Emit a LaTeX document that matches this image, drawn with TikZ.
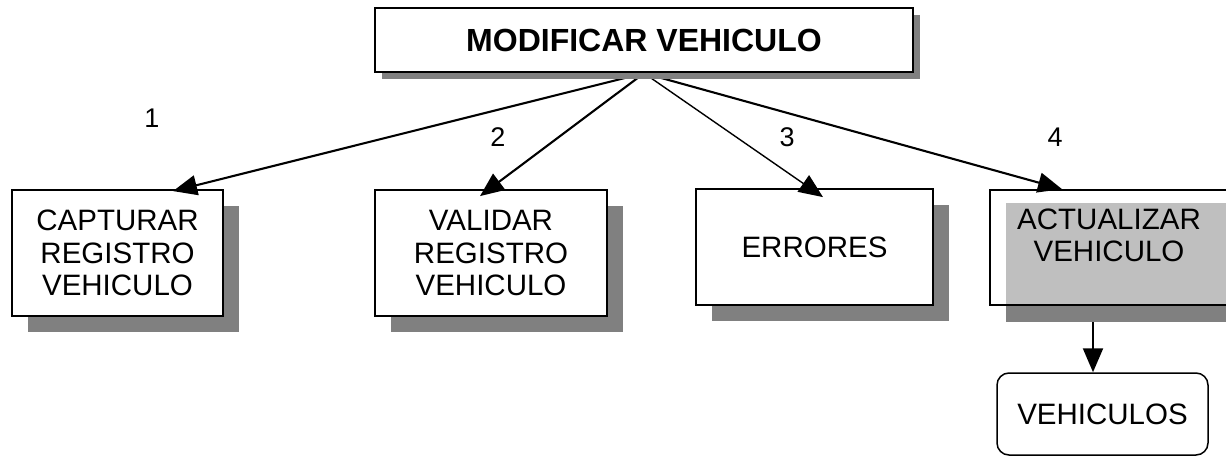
\documentclass[tikz,border=0pt]{standalone}
\usepackage{fontspec}
\setmainfont{Liberation Sans}
\usetikzlibrary{arrows.meta,shadows}
\pgfdeclarelayer{front}
\pgfsetlayers{main,front}

\begin{document}
\begin{tikzpicture}[x=1pt, y=-1pt, >={Triangle[length=24pt,width=20pt]},
  box/.style={draw, line width=1.8pt, align=center, inner sep=0pt,
    font=\fontsize{29.5}{32.5}\selectfont},
  shade/.style={drop shadow={shadow xshift=16pt, shadow yshift=-16pt, fill=black!50, opacity=1}},
  link/.style={->, line width=2.1pt},
  num/.style={font=\fontsize{27}{29}\selectfont}]
	\useasboundingbox (0,0) rectangle (1226,457);
	% title box and the odd shadow of the last box sit in front
	\begin{pgfonlayer}{front}
		\node[box, fill=white, line width=2.4pt, minimum width=538pt, minimum height=64pt,
		  font=\fontsize{32}{34}\selectfont\bfseries,
		  drop shadow={shadow xshift=7pt, shadow yshift=-7pt, fill=black!50, opacity=1}]
		  (modif) at (644,40) {MODIFICAR VEHICULO};
		\fill[black!50] (1006,203) rectangle (1246,322);
		\fill[black!25] (1006,203) rectangle (1228,305);
		\node[box, minimum width=238pt, minimum height=115pt] (actual) at (1109,247.5) {ACTUALIZAR\\VEHICULO\\[-8pt]\mbox{}};
	\end{pgfonlayer}
	\node[box, fill=white, shade, minimum width=211pt, minimum height=126pt] (captur) at (117.5,253) {CAPTURAR\\REGISTRO\\VEHICULO};
	\node[box, fill=white, shade, minimum width=232pt, minimum height=126pt] (valid) at (491,253) {VALIDAR\\REGISTRO\\VEHICULO};
	\node[box, fill=white, shade, minimum width=237pt, minimum height=116pt] (errores) at (814.5,247) {ERRORES};
	\node[box, line width=1.5pt, rounded corners=12pt, minimum width=211pt, minimum height=82pt] (vehic) at (1102.5,414) {VEHICULOS};
	\draw[link] (modif.south) -- ([xshift=55.5pt, yshift=-2pt]captur.north);
	\draw[link] (modif.south) -- ([xshift=-11pt, yshift=-7pt]valid.north);
	\draw[link, line width=1.4pt] (modif.south) -- ([xshift=8.5pt, yshift=-9pt]errores.north);
	\draw[link] (modif.south) -- ([xshift=-47pt]actual.north);
	\draw[link] ([xshift=-16pt]actual.south) -- ([xshift=-16pt]actual.south |- vehic.north);
	\node[num] (n1) at (152,118) {1};
	\node[num] (n2) at (498,137) {2};
	\node[num] (n3) at (787,137) {3};
	\node[num] (n4) at (1055,137) {4};
\end{tikzpicture}
\end{document}
